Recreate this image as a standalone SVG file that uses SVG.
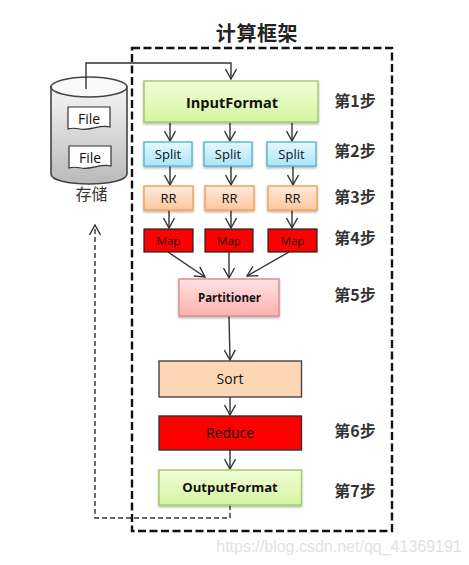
<svg xmlns="http://www.w3.org/2000/svg" width="469" height="565" viewBox="0 0 469 565">
<style>
text{font-family:"Open Sans","Noto Sans",sans-serif;text-anchor:middle;fill:#111}
.zh{font-family:"Noto Sans CJK SC",sans-serif;font-weight:700;font-size:16px;fill:#333}
.c{fill:none;stroke:#333;stroke-width:1.4}
.s{filter:url(#sh)}
.split{fill:url(#bl);stroke:#5db8d2;stroke-width:1.5}
.rr{fill:url(#or);stroke:#f5a45c;stroke-width:1.5}
.map{fill:#f00;stroke:#222;stroke-width:1.2}
.gr{fill:url(#gn);stroke:#a9c96a;stroke-width:1.5}
</style>
<defs>
<filter id="sh" x="-10%" y="-10%" width="120%" height="130%"><feDropShadow dx="0" dy="1.5" stdDeviation="1.2" flood-color="#000" flood-opacity=".3"/></filter>
<linearGradient id="bl" x1="0" y1="0" x2="0" y2="1"><stop offset="0" stop-color="#e6f8fe"/><stop offset="1" stop-color="#a9e6fa"/></linearGradient>
<linearGradient id="or" x1="0" y1="0" x2="0" y2="1"><stop offset="0" stop-color="#fdeadb"/><stop offset="1" stop-color="#fcc79c"/></linearGradient>
<linearGradient id="gn" x1="0" y1="0" x2="0" y2="1"><stop offset="0" stop-color="#f1fdd8"/><stop offset="1" stop-color="#d4f6a0"/></linearGradient>
<linearGradient id="pk" x1="0" y1="0" x2="0" y2="1"><stop offset="0" stop-color="#ffe2e2"/><stop offset="1" stop-color="#ffb0b0"/></linearGradient>
<linearGradient id="cy" x1="0" y1="0" x2="0" y2="1"><stop offset="0" stop-color="#f5f5f5"/><stop offset="1" stop-color="#b9b9b9"/></linearGradient>
<marker id="a" viewBox="0 0 12 12" refX="11" refY="6" markerWidth="12" markerHeight="12" markerUnits="userSpaceOnUse" orient="auto"><path d="M1 .5L11 6L1 11.5" fill="none" stroke="#333" stroke-width="1.4"/></marker>
</defs>

<g id="frame">
<rect x="132" y="48" width="260" height="483" fill="none" stroke="#111" stroke-width="2.4" stroke-dasharray="8 3.5"/>
<text x="257" y="41" style="font-family:'Noto Sans CJK SC',sans-serif;font-weight:700;font-size:20px;fill:#222;letter-spacing:.6px">计算框架</text>
</g>

<g id="storage">
<path d="M51 87V174C51 180 68 184 89 184S127 180 127 174V87Z" fill="url(#cy)" stroke="#444" stroke-width="1.6"/>
<ellipse cx="89" cy="87" rx="38" ry="10" fill="#fafafa" stroke="#444" stroke-width="1.6"/>
<g fill="#fff" stroke="#333" stroke-width="1.2">
<path d="M68 107H110V127C100 124 90 131 80 129C75 128 71 128 68 129Z"/>
<path d="M69 146H111V166C101 163 91 170 81 168C76 167 72 167 69 168Z"/>
</g>
<text x="89" y="124" font-size="14">File</text>
<text x="90" y="163" font-size="14">File</text>
<text x="91.500" y="200" style="font-family:'Noto Sans CJK SC',sans-serif;font-size:16px;fill:#333">存储</text>
</g>

<g id="connectors">
<path class="c" d="M86 89V63H231V79" marker-end="url(#a)"/>
<path class="c" d="M170 123V141" marker-end="url(#a)"/>
<path class="c" d="M230 123V141" marker-end="url(#a)"/>
<path class="c" d="M292 123V141" marker-end="url(#a)"/>
<path class="c" d="M170 166V185" marker-end="url(#a)"/>
<path class="c" d="M231 166V185" marker-end="url(#a)"/>
<path class="c" d="M293 166V185" marker-end="url(#a)"/>
<path class="c" d="M169 210V228" marker-end="url(#a)"/>
<path class="c" d="M231 210V228" marker-end="url(#a)"/>
<path class="c" d="M292 210V228" marker-end="url(#a)"/>
<path class="c" d="M168 252L205 277" marker-end="url(#a)"/>
<path class="c" d="M229 252V278" marker-end="url(#a)"/>
<path class="c" d="M289 252L247 276" marker-end="url(#a)"/>
<path class="c" d="M229 316L230 360" marker-end="url(#a)"/>
<path class="c" d="M230 397V415" marker-end="url(#a)"/>
<path class="c" d="M230 450V469" marker-end="url(#a)"/>
<path class="c" d="M230 505V518H95V225" stroke-dasharray="5 3" stroke-width="1.2" marker-end="url(#a)"/>
</g>

<g id="inputformat"><rect class="gr s" x="144" y="81" width="174" height="41"/><text x="232" y="108" font-size="14.500" font-weight="700">InputFormat</text></g>
<g id="split1"><rect class="split s" x="144" y="142" width="48" height="24"/><text x="168" y="159" font-size="13">Split</text></g>
<g id="split2"><rect class="split s" x="204" y="142" width="48" height="24"/><text x="228" y="159" font-size="13">Split</text></g>
<g id="split3"><rect class="split s" x="267" y="142" width="49" height="24"/><text x="291.500" y="159" font-size="13">Split</text></g>
<g id="rr1"><rect class="rr s" x="144" y="186" width="49" height="24"/><text x="168.500" y="203" font-size="13">RR</text></g>
<g id="rr2"><rect class="rr s" x="205" y="186" width="49" height="24"/><text x="229.500" y="203" font-size="13">RR</text></g>
<g id="rr3"><rect class="rr s" x="268" y="186" width="49" height="24"/><text x="292.500" y="203" font-size="13">RR</text></g>
<g id="map1"><rect class="map" x="144" y="229" width="49" height="23"/><text x="168.500" y="245" font-size="11.500">Map</text></g>
<g id="map2"><rect class="map" x="205" y="229" width="48" height="23"/><text x="229" y="245" font-size="11.500">Map</text></g>
<g id="map3"><rect class="map" x="268" y="229" width="49" height="23"/><text x="292.500" y="245" font-size="11.500">Map</text></g>
<g id="partitioner"><rect class="s" x="179" y="279" width="100" height="37" fill="url(#pk)" stroke="#d98a8a" stroke-width="1.4"/><text x="229.500" y="302" font-size="11.500" font-weight="700">Partitioner</text></g>
<g id="sort"><rect x="159" y="361" width="142.500" height="36" fill="#fdd7b5" stroke="#444" stroke-width="1.4"/><text x="230" y="384" font-size="14">Sort</text></g>
<g id="reduce"><rect x="159" y="416" width="142.500" height="34" fill="#f00" stroke="#333" stroke-width="1.4"/><text x="230" y="438" font-size="14">Reduce</text></g>
<g id="outputformat"><rect class="gr s" x="159" y="470" width="142.500" height="35"/><text x="230" y="492" font-size="13.200" font-weight="700">OutputFormat</text></g>

<g id="steps">
<text class="zh" x="355" y="107">第1步</text>
<text class="zh" x="355" y="157">第2步</text>
<text class="zh" x="355" y="203">第3步</text>
<text class="zh" x="355" y="244">第4步</text>
<text class="zh" x="355" y="301">第5步</text>
<text class="zh" x="355" y="437">第6步</text>
<text class="zh" x="355" y="497">第7步</text>
</g>
<text x="339" y="552" style="font-family:'Liberation Sans',sans-serif;font-size:16px;fill:#e2e2e2">https://blog.csdn.net/qq_41369191</text>
</svg>
